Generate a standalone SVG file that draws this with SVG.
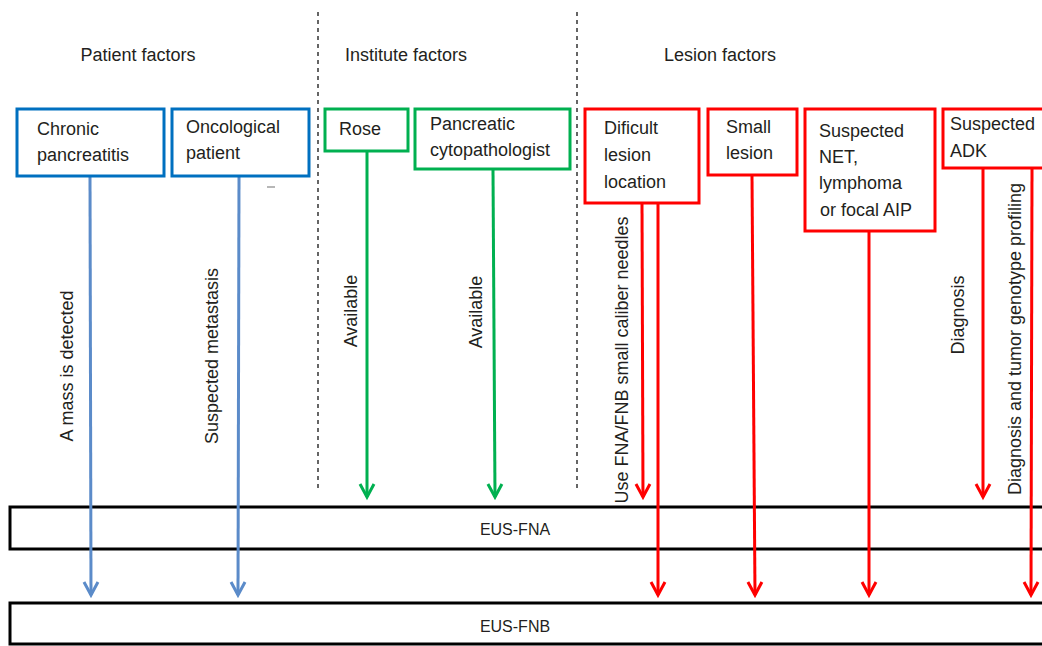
<svg xmlns="http://www.w3.org/2000/svg" width="1042" height="646" viewBox="0 0 1042 646">
<style>
  text { font-family: "Liberation Sans", Arial, sans-serif; font-size: 18px; fill: #231f20; }
  .bar-label { font-size: 16px; text-anchor: middle; }
  .hdr { text-anchor: middle; }
  .rot { text-anchor: middle; }
  .box { fill: #fff; stroke-width: 3; }
  .blue { stroke: #0070c0; }
  .green { stroke: #00b050; }
  .red { stroke: #ff0000; }
  .bar { fill: #fff; stroke: #000; stroke-width: 3; }
  .divider { stroke: #333; stroke-width: 1.5; stroke-dasharray: 4 4; fill: none; }
  .conn { fill: none; stroke-width: 3; }
  .c-blue { stroke: #5b8bc9; }
  .c-green { stroke: #00b050; }
  .c-red { stroke: #ff0000; }
</style>
<defs>
  <marker id="ah-blue" markerUnits="userSpaceOnUse" markerWidth="20" markerHeight="20" refX="0" refY="0" viewBox="-15 -10 17 20" orient="auto">
    <path d="M-13,-7 L0,0 L-13,7" fill="none" stroke="#5b8bc9" stroke-width="3"/>
  </marker>
  <marker id="ah-green" markerUnits="userSpaceOnUse" markerWidth="20" markerHeight="20" refX="0" refY="0" viewBox="-15 -10 17 20" orient="auto">
    <path d="M-13,-7 L0,0 L-13,7" fill="none" stroke="#00b050" stroke-width="3"/>
  </marker>
  <marker id="ah-red" markerUnits="userSpaceOnUse" markerWidth="20" markerHeight="20" refX="0" refY="0" viewBox="-15 -10 17 20" orient="auto">
    <path d="M-13,-7 L0,0 L-13,7" fill="none" stroke="#ff0000" stroke-width="3"/>
  </marker>
</defs>
<rect width="1042" height="646" fill="#fff"/>

<g id="headers">
  <text class="hdr" x="138" y="61">Patient factors</text>
  <text class="hdr" x="406" y="61">Institute factors</text>
  <text class="hdr" x="720" y="61">Lesion factors</text>
</g>

<g id="dividers">
  <line class="divider" x1="318" y1="12" x2="318" y2="490"/>
  <line class="divider" x1="577" y1="12" x2="577" y2="490"/>
</g>

<g id="bar-fna">
  <rect class="bar" x="10" y="507" width="1045" height="42"/>
  <text class="bar-label" x="515" y="535">EUS-FNA</text>
</g>
<g id="bar-fnb">
  <rect class="bar" x="10" y="603" width="1045" height="41"/>
  <text class="bar-label" x="515" y="632">EUS-FNB</text>
</g>

<g id="connectors">
  <line class="conn c-blue" x1="90" y1="177" x2="91" y2="595" marker-end="url(#ah-blue)"/>
  <line class="conn c-blue" x1="239" y1="177" x2="238" y2="595" marker-end="url(#ah-blue)"/>
  <line class="conn c-green" x1="367" y1="151" x2="367" y2="497" marker-end="url(#ah-green)"/>
  <line class="conn c-green" x1="493" y1="170" x2="495" y2="497" marker-end="url(#ah-green)"/>
  <line class="conn c-red" x1="642" y1="204" x2="643" y2="497" marker-end="url(#ah-red)"/>
  <line class="conn c-red" x1="658" y1="204" x2="658" y2="595" marker-end="url(#ah-red)"/>
  <line class="conn c-red" x1="752" y1="176" x2="755" y2="595" marker-end="url(#ah-red)"/>
  <line class="conn c-red" x1="869" y1="232" x2="869" y2="595" marker-end="url(#ah-red)"/>
  <line class="conn c-red" x1="983" y1="169" x2="983" y2="497" marker-end="url(#ah-red)"/>
  <line class="conn c-red" x1="1032" y1="169" x2="1031" y2="595" marker-end="url(#ah-red)"/>
</g>

<g id="connector-labels">
  <text class="rot" transform="translate(73,366) rotate(-90)">A mass is detected</text>
  <text class="rot" transform="translate(218,356) rotate(-90)">Suspected metastasis</text>
  <text class="rot" transform="translate(357,311) rotate(-90)">Available</text>
  <text class="rot" transform="translate(482,312) rotate(-90)">Available</text>
  <text class="rot" transform="translate(628,360) rotate(-90)">Use FNA/FNB small caliber needles</text>
  <text class="rot" transform="translate(964,315) rotate(-90)">Diagnosis</text>
  <text class="rot" transform="translate(1021,339) rotate(-90)">Diagnosis and tumor genotype profiling</text>
  <line x1="267" y1="187" x2="275" y2="187" stroke="#888" stroke-width="1.2"/>
</g>

<g id="node-chronic">
  <rect class="box blue" x="17" y="109" width="147" height="67"/>
  <text x="37" y="135">Chronic</text>
  <text x="37" y="161">pancreatitis</text>
</g>
<g id="node-oncological">
  <rect class="box blue" x="172" y="109" width="137" height="67"/>
  <text x="186" y="133">Oncological</text>
  <text x="186" y="159">patient</text>
</g>
<g id="node-rose">
  <rect class="box green" x="325" y="109" width="83" height="42"/>
  <text x="339" y="135">Rose</text>
</g>
<g id="node-cytopathologist">
  <rect class="box green" x="415" y="109" width="155" height="60"/>
  <text x="430" y="130">Pancreatic</text>
  <text x="430" y="156">cytopathologist</text>
</g>
<g id="node-difficult">
  <rect class="box red" x="585" y="109" width="114" height="94"/>
  <text x="604" y="134">Dificult</text>
  <text x="604" y="161">lesion</text>
  <text x="604" y="188">location</text>
</g>
<g id="node-small">
  <rect class="box red" x="708" y="109" width="89" height="66"/>
  <text x="726" y="133">Small</text>
  <text x="726" y="159">lesion</text>
</g>
<g id="node-net">
  <rect class="box red" x="805" y="109" width="130" height="122"/>
  <text x="819" y="137">Suspected</text>
  <text x="819" y="163">NET,</text>
  <text x="819" y="189">lymphoma</text>
  <text x="820" y="216">or focal AIP</text>
</g>
<g id="node-adk">
  <rect class="box red" x="943" y="109" width="110" height="59"/>
  <text x="950" y="130">Suspected</text>
  <text x="950" y="157">ADK</text>
</g>
</svg>
